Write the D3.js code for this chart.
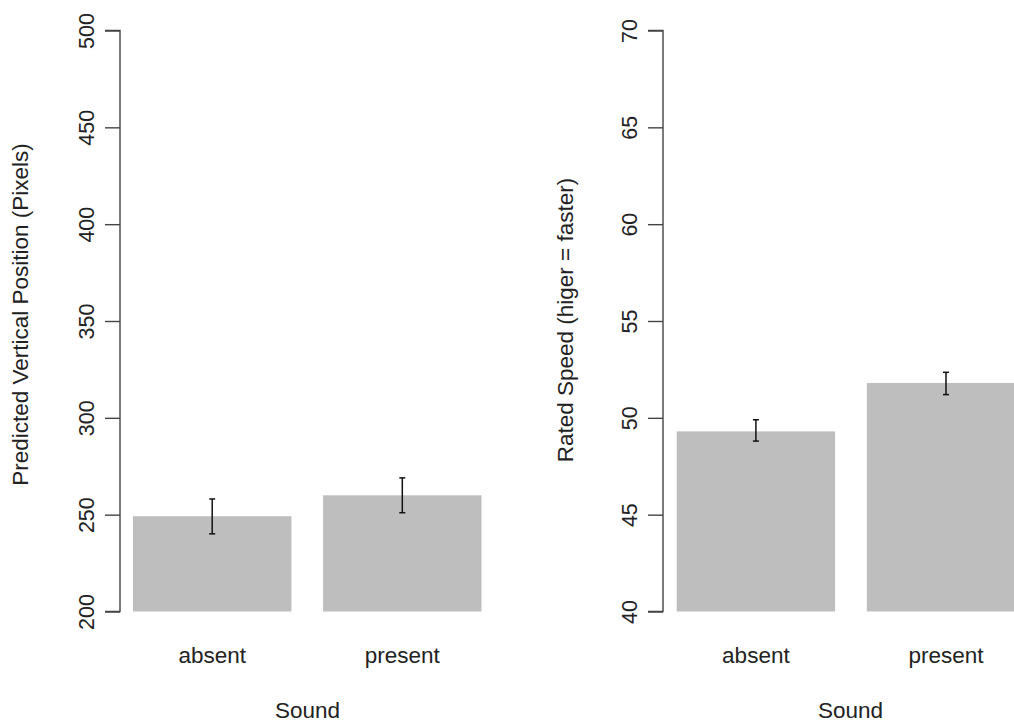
<!DOCTYPE html>
<html>
<head>
<meta charset="utf-8">
<script src="https://cdn.jsdelivr.net/npm/d3@7"></script>
<style>
  html, body { margin: 0; padding: 0; background: #fff; }
  svg { display: block; font-family: "Liberation Sans", Arial, Helvetica, sans-serif; }
</style>
</head>
<body>
<svg id="chart" width="1014" height="722"></svg>
<script>
// ---- data ----
const categories = ["absent", "present"];
const positionMeans = [249.2, 260.0];
const positionLower = [240.1, 251.0];
const positionUpper = [258.1, 269.0];
const positionTicks = [200, 250, 300, 350, 400, 450, 500];

const speedMeans = [49.3, 51.8];
const speedLower = [48.8, 51.2];
const speedUpper = [49.9, 52.35];
const speedTicks = [40, 45, 50, 55, 60, 65, 70];

const xTitle = "Sound";
const positionTitle = "Predicted Vertical Position (Pixels)";
const speedTitle = "Rated Speed (higer = faster)";

// ---- layout ----
const svg = d3.select("#chart");
const yTop = 30.5, yBottom = 611.5;
const tickFont = 21.5;
const labelFont = 22.5;

function panel(cfg) {
  const g = svg.append("g");
  const y = d3.scaleLinear().domain(cfg.domain).range([yBottom, yTop]);
  const x = d3.scaleBand().domain(categories)
    .range([cfg.barStart, cfg.barStart + 348.5])
    .paddingInner(0.1667).paddingOuter(0);

  // bars
  g.selectAll("rect.bar").data(categories).join("rect")
    .attr("class", "bar")
    .attr("x", d => x(d))
    .attr("width", x.bandwidth())
    .attr("y", (d, i) => y(cfg.means[i]))
    .attr("height", (d, i) => y(cfg.domain[0]) - y(cfg.means[i]))
    .attr("fill", "#bebebe");

  // error bars
  const eb = g.selectAll("g.eb").data(categories).join("g").attr("class", "eb");
  const cx = d => x(d) + x.bandwidth() / 2;
  eb.append("line")
    .attr("x1", cx).attr("x2", cx)
    .attr("y1", (d, i) => y(cfg.lower[i])).attr("y2", (d, i) => y(cfg.upper[i]))
    .attr("stroke", "#111").attr("stroke-width", 1.5);
  [cfg.lower, cfg.upper].forEach(arr => {
    eb.append("line")
      .attr("x1", d => cx(d) - 3).attr("x2", d => cx(d) + 3)
      .attr("y1", (d, i) => y(arr[i])).attr("y2", (d, i) => y(arr[i]))
      .attr("stroke", "#111").attr("stroke-width", 1.5);
  });

  // y axis
  const axis = d3.axisLeft(y).tickValues(cfg.ticks).tickSize(15).tickPadding(0).tickFormat(d3.format("d"));
  const ag = g.append("g").attr("transform", `translate(${cfg.axisX},0)`).call(axis);
  ag.select(".domain").attr("stroke", "#444").attr("stroke-width", 1.4)
    .attr("d", `M-15,${y(cfg.domain[1])}H0V${y(cfg.domain[0])}H-15`);
  ag.selectAll(".tick line").attr("stroke", "#444").attr("stroke-width", 1.4);
  ag.selectAll(".tick text")
    .attr("x", null).attr("dy", null)
    .attr("transform", "translate(-26,0) rotate(-90)")
    .attr("text-anchor", "middle")
    .attr("font-size", tickFont)
    .attr("fill", "#222")
    .attr("font-family", "Liberation Sans, Arial, sans-serif");

  // category labels
  g.selectAll("text.cat").data(categories).join("text")
    .attr("class", "cat")
    .attr("x", cx).attr("y", 663)
    .attr("text-anchor", "middle")
    .attr("font-size", labelFont)
    .attr("fill", "#222")
    .text(d => d);

  // x title
  g.append("text")
    .attr("x", cfg.axisX + 187.5).attr("y", 718)
    .attr("text-anchor", "middle")
    .attr("font-size", labelFont)
    .attr("fill", "#222")
    .text(xTitle);

  // y title
  g.append("text")
    .attr("transform", `translate(${cfg.titleX},${cfg.titleY}) rotate(-90)`)
    .attr("text-anchor", "middle")
    .attr("font-size", labelFont)
    .attr("fill", "#222")
    .text(cfg.title);
}

panel({
  domain: [200, 500], ticks: positionTicks, means: positionMeans,
  lower: positionLower, upper: positionUpper,
  axisX: 120, barStart: 133, titleX: 28, titleY: 314.5, title: positionTitle
});
panel({
  domain: [40, 70], ticks: speedTicks, means: speedMeans,
  lower: speedLower, upper: speedUpper,
  axisX: 663, barStart: 676.7, titleX: 573, titleY: 320, title: speedTitle
});
</script>
</body>
</html>
